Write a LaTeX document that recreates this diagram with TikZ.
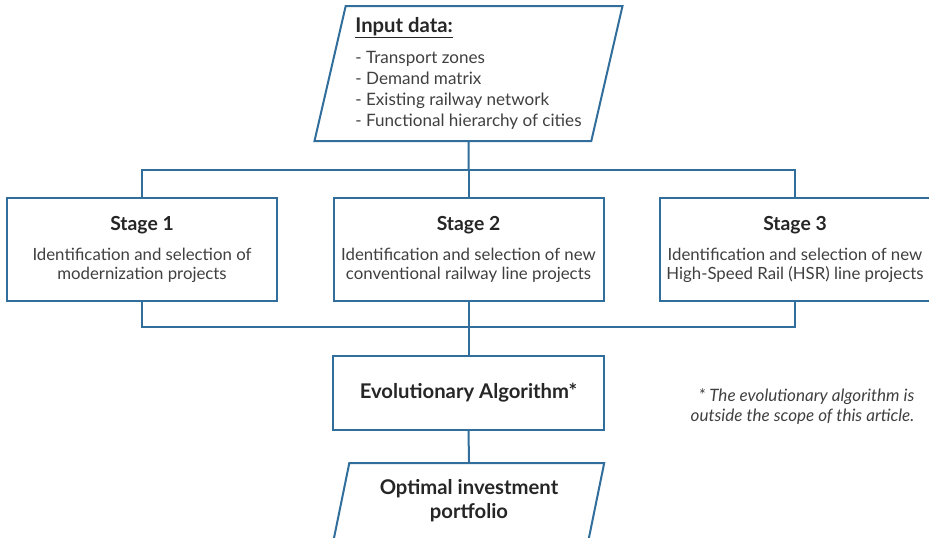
\documentclass[tikz,border=0pt]{standalone}
\usepackage{fontspec}
\setmainfont{Lato}
\usepackage{xcolor}
\usetikzlibrary{positioning,shapes.geometric}
\definecolor{flowblue}{RGB}{49,110,155}
\definecolor{inktext}{RGB}{38,38,38}
\definecolor{bodytext}{RGB}{64,64,64}
\newcommand{\bodysize}{\fontsize{12.6}{14.25}\selectfont}
\newcommand{\listsize}{\fontsize{12.8}{15.75}\selectfont}
\newcommand{\headsize}{\fontsize{14.5}{16}\selectfont\bfseries}
\newcommand{\bigsize}{\fontsize{15.2}{18}\selectfont\bfseries}

\begin{document}
\begin{tikzpicture}[x=0.75pt, y=-0.75pt,
  box/.style={rectangle, draw=flowblue, line width=1.5pt, fill=white,
    align=center, text=bodytext, inner sep=2pt},
  io/.style={trapezium, trapezium left angle=76, trapezium right angle=104,
    trapezium stretches=true, draw=flowblue, line width=1.5pt, fill=white,
    inner sep=2pt},
  link/.style={draw=flowblue, line width=1.5pt}]
\useasboundingbox (0,0) rectangle (929,537);
% input
\node[io, minimum width=231.75pt, minimum height=101.25pt, align=left, text=bodytext, font=\listsize]
  (input) at (468.5,73.5) {{\fontsize{15.2}{16}\selectfont\bfseries\color{inktext}\underline{Input data:}}\\[8pt]
  - Transport zones\\ - Demand matrix\\
  - Existing railway network\\ - Functional hierarchy of cities};
% stages
\node[box, font=\bodysize, minimum width=202.5pt, minimum height=77.25pt] (s1) at (142,249.5)
  {{\headsize\color{inktext}Stage 1}\\[8pt] Identification and selection of\\ modernization projects};
\node[box, font=\bodysize, minimum width=202.5pt, minimum height=77.25pt] (s2) at (468.5,249.5)
  {{\headsize\color{inktext}Stage 2}\\[8pt] Identification and selection of new\\ conventional railway line projects};
\node[box, font=\bodysize, minimum width=202.5pt, minimum height=77.25pt] (s3) at (795,249.5)
  {{\headsize\color{inktext}Stage 3}\\[8pt] Identification and selection of new\\ High-Speed Rail (HSR) line projects};
% algorithm and result
\node[box, font=\bigsize, text=inktext, minimum width=203.25pt, minimum height=55.5pt] (evo) at (468.5,393)
  {Evolutionary Algorithm*};
\node[io, font=\bigsize, text=inktext, minimum width=203.25pt, minimum height=57pt, align=center] (output) at (469,501)
  {Optimal investment\\ portfolio};
\node[anchor=east, align=right, text=bodytext, font=\fontsize{12.8}{15}\selectfont\itshape] (note) at (919,407)
  {* The evolutionary algorithm is\\ outside the scope of this article.};
% buses
\coordinate (bustop) at (468.5,170);
\coordinate (busbot) at (468.5,327);
\draw[link] (input.south) -- (bustop);
\draw[link] (s1.north) |- (bustop) -| (s3.north);
\draw[link] (bustop) -- (s2.north);
\draw[link] (s1.south) |- (busbot) -| (s3.south);
\draw[link] (s2.south) -- (evo.north);
\draw[link] (evo.south) -- (output.north);
\end{tikzpicture}
\end{document}
